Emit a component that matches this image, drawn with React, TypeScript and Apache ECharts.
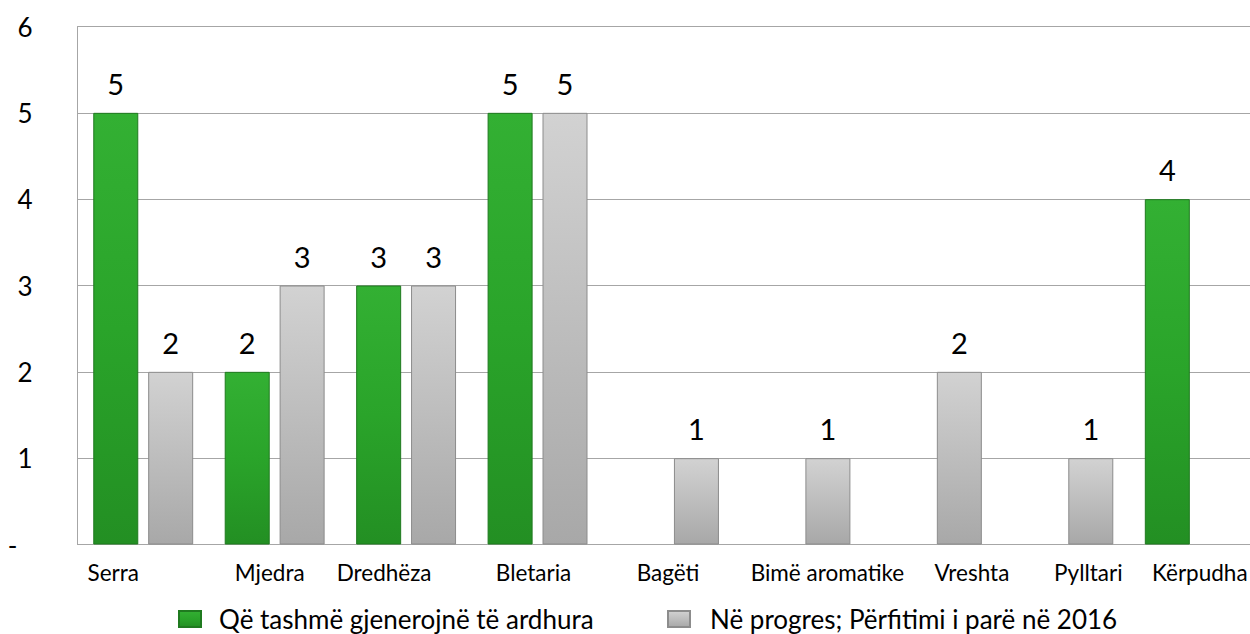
import React, { useEffect, useRef } from "react";
import * as echarts from "echarts";

const categories = ["Serra", "Mjedra", "Dredhëza", "Bletaria", "Bagëti", "Bimë aromatike", "Vreshta", "Pylltari", "Kërpudha"];
const seriesNames = ["Që tashmë gjenerojnë të ardhura", "Në progres; Përfitimi i parë në 2016"];
const generating = [5, 2, 3, 5, null, null, null, null, 4];
const inProgress = [2, 3, 3, 5, 1, 1, 2, 1, null];
const yTicks = { min: 0, max: 6, interval: 1 };

// horizontal nudges of category labels (styling only)
const labelNudge = [-30, -5, -22, -4, -1, 27, 40, 25, 5];

const FONT = "Lato, 'Open Sans', sans-serif";

export default function App() {
  const ref = useRef<HTMLDivElement>(null);
  useEffect(() => {
    if (!ref.current) return;
    const chart = echarts.init(ref.current, undefined, { renderer: "svg" });
    const rich: any = {};
    labelNudge.forEach((s, i) => {
      rich["c" + i] = {
        fontSize: 22.5,
        fontFamily: FONT,
        color: "#000",
        padding: s >= 0 ? [0, 0, 0, 2 * s] : [0, -2 * s, 0, 0],
      };
    });
    const green = new echarts.graphic.LinearGradient(0, 0, 0, 1, [
      { offset: 0, color: "#33b033" },
      { offset: 0.5, color: "#2aa42a" },
      { offset: 1, color: "#238f23" },
    ]);
    const gray = new echarts.graphic.LinearGradient(0, 0, 0, 1, [
      { offset: 0, color: "#d2d2d2" },
      { offset: 1, color: "#a8a8a8" },
    ]);
    const labelCfg = {
      show: true,
      position: "top",
      distance: 15,
      fontSize: 29,
      fontFamily: FONT,
      color: "#000",
    };
    const legendText = { fontSize: 26, fontFamily: FONT, color: "#000" };
    chart.setOption({
      animation: false,
      backgroundColor: "#fff",
      grid: { left: 77.5, top: 26.5, width: 1183, height: 518, outerBoundsMode: "none", containLabel: false },
      legend: [
        {
          data: [seriesNames[0]],
          left: 173,
          top: 601,
          itemWidth: 22,
          itemHeight: 16,
          icon: "rect",
          textStyle: { ...legendText, padding: [0, 0, 0, 13] },
        },
        {
          data: [seriesNames[1]],
          left: 662,
          top: 601,
          itemWidth: 22,
          itemHeight: 16,
          icon: "rect",
          textStyle: { ...legendText, padding: [0, 0, 0, 15] },
        },
      ],
      xAxis: {
        type: "category",
        data: categories,
        axisLine: { show: true, lineStyle: { color: "#a6a6a6", width: 1 } },
        axisTick: { show: false },
        axisLabel: {
          interval: 0,
          margin: 16,
          formatter: (v: string, i: number) => `{c${i}|${v}}`,
          rich,
        },
      },
      yAxis: {
        type: "value",
        min: yTicks.min,
        max: yTicks.max,
        interval: yTicks.interval,
        axisLine: { show: true, lineStyle: { color: "#a6a6a6", width: 1 } },
        axisTick: { show: false },
        splitLine: { show: true, lineStyle: { color: "#a6a6a6", width: 1 } },
        axisLabel: {
          margin: 45,
          fontSize: 26,
          fontFamily: FONT,
          color: "#000",
          formatter: (v: number) => (v === 0 ? "{d|-}" : String(v)),
          rich: { d: { fontSize: 26, fontFamily: FONT, color: "#000", padding: [0, 15, 0, 0] } },
        },
      },
      series: [
        {
          name: seriesNames[0],
          type: "bar",
          data: generating,
          barWidth: 45,
          barGap: "22%",
          itemStyle: { color: green, borderColor: "#1f7a1f", borderWidth: 1 },
          label: labelCfg,
        },
        {
          name: seriesNames[1],
          type: "bar",
          data: inProgress,
          barWidth: 45,
          itemStyle: { color: gray, borderColor: "#8c8c8c", borderWidth: 1 },
          label: labelCfg,
        },
      ],
    });
    return () => chart.dispose();
  }, []);
  return <div ref={ref} style={{ position: "fixed", left: 0, top: 0, width: 1250, height: 634 }} />;
}
